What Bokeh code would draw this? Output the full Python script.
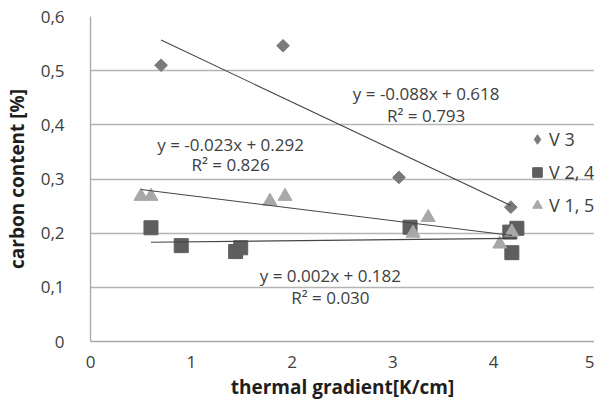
import math
from bokeh.plotting import figure
from bokeh.models import Range1d, FixedTicker, Legend, LegendItem
from bokeh.core.properties import value
from bokeh.embed import file_html
from bokeh.resources import INLINE

# ---- data ----
series_names = ["V 3", "V 2, 4", "V 1, 5"]
v3_x = [0.70, 1.91, 3.06, 4.17]
v3_y = [0.510, 0.546, 0.303, 0.248]
v24_x = [0.60, 0.90, 1.44, 1.49, 3.17, 4.16, 4.23, 4.18]
v24_y = [0.210, 0.177, 0.166, 0.173, 0.211, 0.202, 0.209, 0.164]
v15_x = [0.50, 0.60, 1.78, 1.93, 3.20, 3.35, 4.06, 4.18]
v15_y = [0.268, 0.268, 0.259, 0.268, 0.200, 0.229, 0.180, 0.202]

trend_slopes = [-0.088, 0.002, -0.023]
trend_intercepts = [0.618, 0.182, 0.292]
trend_eq_texts = ["y = -0.088x + 0.618", "y = 0.002x + 0.182", "y = -0.023x + 0.292"]
trend_r2_texts = ["R² = 0.793", "R² = 0.030", "R² = 0.826"]

x_ticks = [0, 1, 2, 3, 4, 5]
x_tick_labels = ["0", "1", "2", "3", "4", "5"]
y_ticks = [0, 0.1, 0.2, 0.3, 0.4, 0.5, 0.6]
y_tick_labels = ["0", "0,1", "0,2", "0,3", "0,4", "0,5", "0,6"]

x_title = "thermal gradient[K/cm]"
y_title = "carbon content [%]"

# label anchor positions (data units) for the equation boxes
eq_pos_x = [3.33, 2.38, 1.39]
eq_pos_y1 = [0.458, 0.121, 0.364]
eq_pos_y2 = [0.418, 0.081, 0.326]

FONT = "Open Sans"
TXT = "#404040"

p = figure(width=594, height=402, output_backend="svg", toolbar_location=None,
           x_range=Range1d(0, 5), y_range=Range1d(0, 0.6),
           min_border_left=88, min_border_right=0, min_border_top=16, min_border_bottom=0)
p.outline_line_color = None
p.background_fill_color = "white"
p.border_fill_color = "white"

# grid
p.xgrid.grid_line_color = None
p.ygrid.grid_line_color = "#b4b4b4"
p.ygrid.grid_line_width = 1.3

# axes
for ax in (p.xaxis[0], p.yaxis[0]):
    ax.major_tick_line_color = None
    ax.minor_tick_line_color = None
    ax.axis_line_color = "#a8a8a8"
    ax.axis_line_width = 1.3
    ax.major_label_text_font = FONT
    ax.major_label_text_font_size = "17px"
    ax.major_label_text_color = TXT
    ax.axis_label_text_font = FONT
    ax.axis_label_text_font_size = "19px"
    ax.axis_label_text_font_style = "bold"
    ax.axis_label_text_color = "#1e1e1e"

p.xaxis.ticker = FixedTicker(ticks=x_ticks)
p.xaxis.major_label_overrides = {t: l for t, l in zip(x_ticks, x_tick_labels)}
p.yaxis.ticker = FixedTicker(ticks=y_ticks)
p.yaxis.major_label_overrides = {t: l for t, l in zip(y_ticks, y_tick_labels)}
p.xaxis.axis_label = x_title
p.yaxis.axis_label = y_title
p.xaxis.major_label_standoff = 8
p.xaxis.axis_label_standoff = 3
p.yaxis.major_label_standoff = 20
p.yaxis.axis_label_standoff = 8

# markers
r_v3 = p.scatter(v3_x, v3_y, marker="square", angle=math.pi / 4, size=9,
                 fill_color="#7a7a7a", line_color="#7a7a7a")
r_v24 = p.scatter(v24_x, v24_y, marker="square", size=14,
                  fill_color="#5e5e5e", line_color="#5e5e5e")
r_v15 = p.scatter(v15_x, v15_y, marker="triangle", size=14,
                  fill_color="#a8a8a8", line_color="#a8a8a8")
# hidden twin of the diamond series, used only for its legend swatch
r_v3_key = p.scatter(v3_x, v3_y, marker="diamond", size=9, visible=False,
                     fill_color="#7a7a7a", line_color="#7a7a7a")

# trendlines (linear fits given by the chart's equations)
all_x = [v3_x, v24_x, v15_x]
for xs, m, b in zip(all_x, trend_slopes, trend_intercepts):
    x0, x1 = min(xs), max(xs)
    p.line([x0, x1], [m * x0 + b, m * x1 + b], line_color="#454545", line_width=1.1)

# equation labels
p.text(x=eq_pos_x, y=eq_pos_y1, text=trend_eq_texts, text_align="center",
       text_baseline="middle", text_font=value(FONT), text_font_size="17px", text_color=TXT)
p.text(x=eq_pos_x, y=eq_pos_y2, text=trend_r2_texts, text_align="center",
       text_baseline="middle", text_font=value(FONT), text_font_size="17px", text_color=TXT)

legend = Legend(items=[LegendItem(label=series_names[0], renderers=[r_v3_key]),
                       LegendItem(label=series_names[1], renderers=[r_v24]),
                       LegendItem(label=series_names[2], renderers=[r_v15])],
                location=(435, 124), orientation="vertical",
                glyph_width=24, glyph_height=24, label_height=24, spacing=9,
                padding=0, margin=0, border_line_color=None, background_fill_alpha=0,
                inactive_fill_alpha=0,
                label_standoff=0, label_text_font=FONT, label_text_font_size="18px",
                label_text_color=TXT)
p.add_layout(legend)

open("out.html", "w").write(file_html(p, INLINE))
